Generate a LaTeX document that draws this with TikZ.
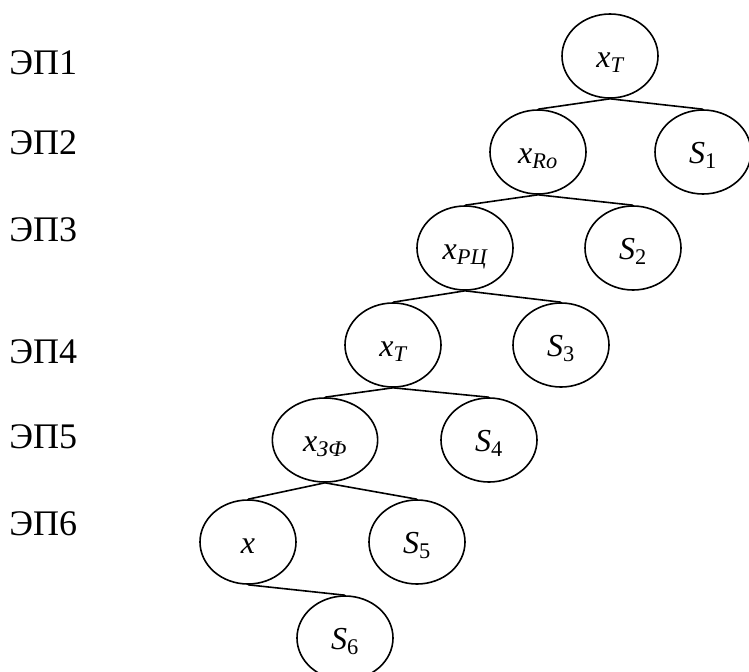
\documentclass[tikz,border=0pt]{standalone}
\usepackage{fontspec}
\setmainfont{Liberation Serif}
\usetikzlibrary{shapes.geometric}
\tikzset{
  vertex/.style={ellipse,draw=black,line width=1.2pt,minimum width=72pt,minimum height=63pt,inner sep=0pt,text height=17pt,text depth=0pt,font=\fontsize{24}{28}\selectfont\itshape},
  level/.style={anchor=base west,inner sep=0pt,font=\fontsize{27}{31}\selectfont},
  edge/.style={line width=1.2pt,draw=black},
}
\begin{document}
\begin{tikzpicture}[x=0.75pt,y=-0.75pt]
  \useasboundingbox (0,0) rectangle (749,671);
  % levels
  \node[level] (l1) at (9,74) {ЭП1};
  \node[level] (l2) at (9,154) {ЭП2};
  \node[level] (l3) at (9,241) {ЭП3};
  \node[level] (l4) at (9,363) {ЭП4};
  \node[level] (l5) at (9,448) {ЭП5};
  \node[level] (l6) at (9,535) {ЭП6};
  % tree
  \node[vertex] (a) at (610,56) {x\textsubscript{T}};
  \node[vertex] (b) at (538,152) {x\textsubscript{Ro}};
  \node[vertex] (s1) at (703,152) {S\textsubscript{\upshape 1}};
  \node[vertex] (c) at (465,248) {x\textsubscript{РЦ}};
  \node[vertex] (s2) at (633,248) {S\textsubscript{\upshape 2}};
  \node[vertex] (d) at (393,345) {x\textsubscript{T}};
  \node[vertex] (s3) at (561,345) {S\textsubscript{\upshape 3}};
  \node[vertex,minimum width=79pt] (e) at (325,440) {x\textsubscript{ЗФ}};
  \node[vertex] (s4) at (489,440) {S\textsubscript{\upshape 4}};
  \node[vertex] (f) at (248,542) {x};
  \node[vertex] (s5) at (417,542) {S\textsubscript{\upshape 5}};
  \node[vertex] (s6) at (345,638) {S\textsubscript{\upshape 6}};
  \draw[edge] (b.north)--(a.south)--(s1.north);
  \draw[edge] (c.north)--(b.south)--(s2.north);
  \draw[edge] (d.north)--(c.south)--(s3.north);
  \draw[edge] (e.north)--(d.south)--(s4.north);
  \draw[edge] (f.north)--(e.south)--(s5.north);
  \draw[edge] (f.south)--(s6.north);
\end{tikzpicture}
\end{document}
